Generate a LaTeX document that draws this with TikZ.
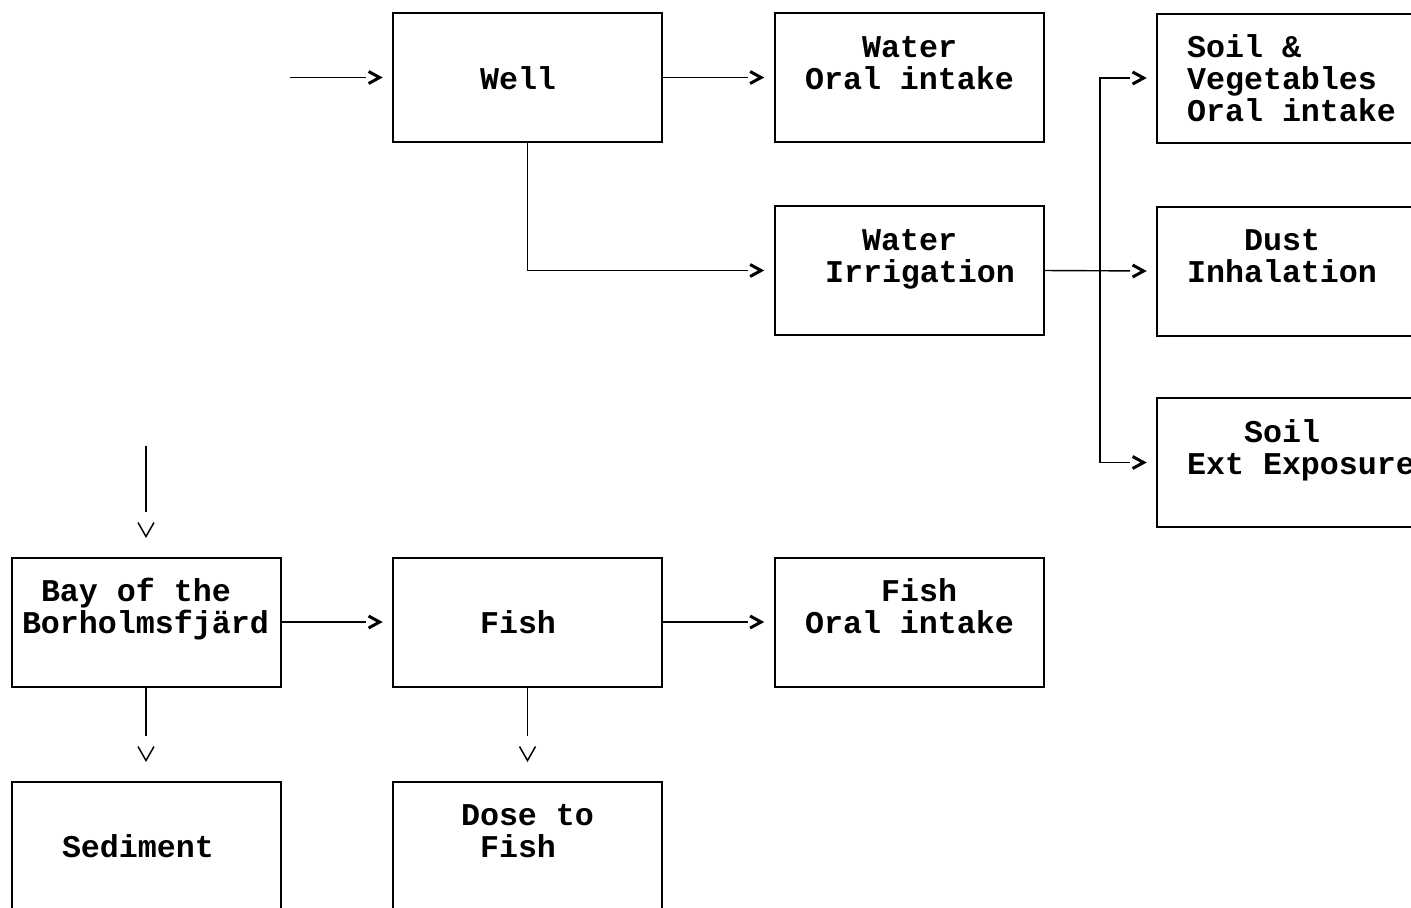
\documentclass[tikz,border=0pt]{standalone}
\usepackage{fontspec}
\setmainfont{Liberation Mono}
\begin{document}
\begin{tikzpicture}[x=0.5pt,y=-0.5pt,
 box/.style={draw, line width=1pt, minimum width=134.5pt, minimum height=64.5pt, inner sep=0, outer sep=0},
 txt/.style={anchor=base west, inner sep=0, outer sep=0, font=\fontsize{15.83}{16}\selectfont\bfseries},
 conn/.style={line width=0.7pt},
 harr/.style={conn, shorten >=13.5pt},
 varr/.style={conn, shorten >=23pt},
 rtip/.pic={\draw[line width=1.5pt, line join=miter] (-5.5pt,3pt) -- (0pt,0pt) -- (-5.5pt,-3pt);},
 dtip/.pic={\draw[line width=0.75pt, line join=miter] (-4pt,7pt) -- (0pt,0pt) -- (4pt,7pt);}]
\clip (0,0) rectangle (1411,907);
\fill[white] (0,0) rectangle (1411,907);
% boxes
\node[box] (well)    at (527.5,77.5) {};
\node[box] (woral)   at (909,77.5) {};
\node[box] (soilveg) at (1291.5,78) {};
\node[box] (irrig)   at (909,270.5) {};
\node[box] (dust)    at (1291.5,271) {};
\node[box] (soilext) at (1291.5,462.5) {};
\node[box] (bay)     at (146,622) {};
\node[box] (fish)    at (527.5,622) {};
\node[box] (foral)   at (909,622) {};
\node[box] (sed)     at (146,846) {};
\node[box] (dose)    at (527.5,846) {};
% texts
\node[txt] (t-well) at (480,89) {Well};
\node[txt] (t-woral1) at (862,57) {Water};
\node[txt] (t-woral2) at (805,89) {Oral intake};
\node[txt] (t-sv1) at (1187,57) {Soil \&};
\node[txt] (t-sv2) at (1187,89) {Vegetables};
\node[txt] (t-sv3) at (1187,121) {Oral intake};
\node[txt] (t-ir1) at (862,250) {Water};
\node[txt] (t-ir2) at (825,282) {Irrigation};
\node[txt] (t-du1) at (1244,250) {Dust};
\node[txt] (t-du2) at (1187,282) {Inhalation};
\node[txt] (t-se1) at (1244,442) {Soil};
\node[txt] (t-se2) at (1187,474) {Ext Exposure};
\node[txt] (t-bay1) at (41,601) {Bay of the};
\node[txt] (t-bay2) at (22,633) {Borholmsfjärd};
\node[txt] (t-fish) at (480,633) {Fish};
\node[txt] (t-fo1) at (881,601) {Fish};
\node[txt] (t-fo2) at (805,633) {Oral intake};
\node[txt] (t-sed) at (62,857) {Sediment};
\node[txt] (t-dose1) at (461,825) {Dose to};
\node[txt] (t-dose2) at (480,857) {Fish};
% connectors
\coordinate (inwell) at (290,77.5);
\coordinate (inbay) at (146,446);
\coordinate (junc) at (1100,270.5);
\draw[harr] (inwell) -- (well.west);
\draw[harr] (well.east) -- (woral.west);
\draw[harr] (well.south) |- (irrig.west);
\draw[harr] (irrig.east) -- (dust.west);
\draw[harr] (junc) |- (soilveg.west);
\draw[harr] (junc) |- (soilext.west);
\draw[varr] (inbay) -- (bay.north);
\draw[harr] (bay.east) -- (fish.west);
\draw[harr] (fish.east) -- (foral.west);
\draw[varr] (bay.south) -- (sed.north);
\draw[varr] (fish.south) -- (dose.north);
% arrow heads
\foreach \n in {well,woral,irrig,dust,soilveg,soilext,fish,foral}
  \pic at ([xshift=-6.7pt]\n.west) {rtip};
\foreach \n in {bay,sed,dose}
  \pic at ([yshift=10.5pt]\n.north) {dtip};
\end{tikzpicture}
\end{document}
